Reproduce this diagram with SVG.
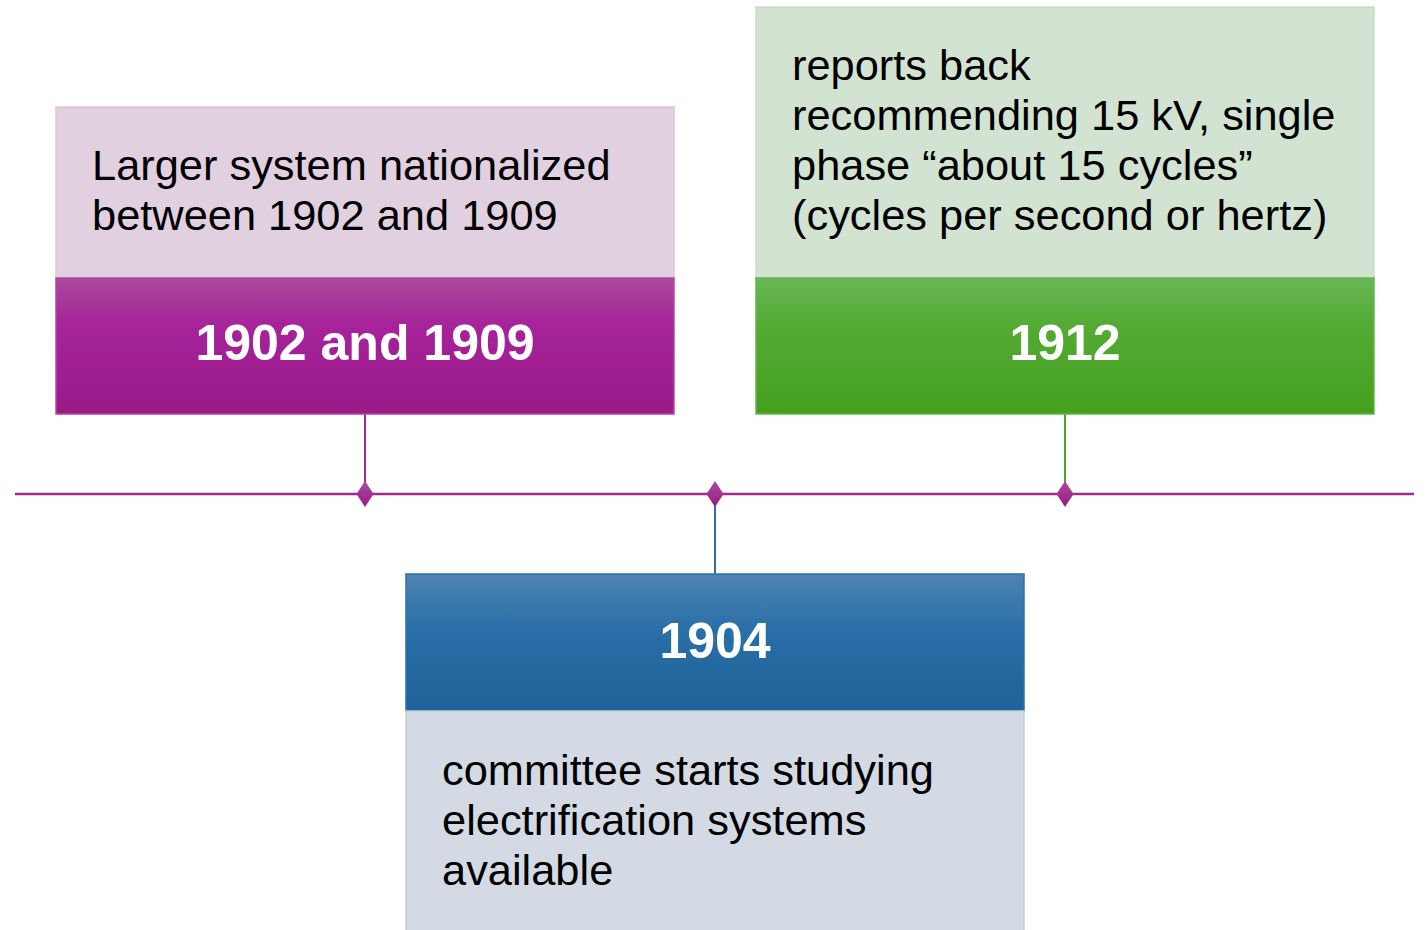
<svg xmlns="http://www.w3.org/2000/svg" width="1427" height="930" viewBox="0 0 1427 930">
<defs>
<linearGradient id="gP" x1="0" y1="0" x2="0" y2="1"><stop offset="0" stop-color="#ab4a9c"/><stop offset="0.35" stop-color="#a6239a"/><stop offset="1" stop-color="#9a1a89"/></linearGradient>
<linearGradient id="gG" x1="0" y1="0" x2="0" y2="1"><stop offset="0" stop-color="#68b656"/><stop offset="0.35" stop-color="#53ab33"/><stop offset="1" stop-color="#45a01e"/></linearGradient>
<linearGradient id="gB" x1="0" y1="0" x2="0" y2="1"><stop offset="0" stop-color="#4d84b1"/><stop offset="0.4" stop-color="#2a6fa8"/><stop offset="1" stop-color="#1f6199"/></linearGradient>
<linearGradient id="gD" x1="0" y1="0" x2="0" y2="1"><stop offset="0" stop-color="#b04aa0"/><stop offset="1" stop-color="#961a86"/></linearGradient>
</defs>
<style>
.body{font-family:"Liberation Sans",Arial,sans-serif;font-size:43.4px;fill:#000}
.title{font-family:"Liberation Sans",Arial,sans-serif;font-size:50px;font-weight:bold;fill:#fff;text-anchor:middle}
.dia{fill:url(#gD)}
</style>
<g id="connectors">
<line x1="15" y1="494" x2="1414" y2="494" stroke="#a0288f" stroke-width="2.5"/>
<line x1="365" y1="414" x2="365" y2="494" stroke="#a0288f" stroke-width="2"/>
<line x1="1065" y1="414" x2="1065" y2="494" stroke="#4ea52e" stroke-width="2"/>
<line x1="715" y1="494" x2="715" y2="574" stroke="#2a6fa8" stroke-width="2"/>
<path class="dia" d="M365 481 L373.5 494 L365 507 L356.5 494 Z"/>
<path class="dia" d="M715 481 L723.5 494 L715 507 L706.5 494 Z"/>
<path class="dia" d="M1065 481 L1073.5 494 L1065 507 L1056.5 494 Z"/>
</g>
<g id="node-1902">
<rect x="56" y="107" width="618" height="171" fill="#e1d0df" stroke="#dcc4d9" stroke-width="1.5"/>
<rect x="56" y="278" width="618" height="136" fill="url(#gP)" stroke="#b04aa0" stroke-width="1.5"/>
<text class="body" x="92" y="180">Larger system nationalized</text>
<text class="body" x="92" y="230">between 1902 and 1909</text>
<text class="title" x="365" y="360">1902 and 1909</text>
</g>
<g id="node-1912">
<rect x="756" y="7" width="618" height="271" fill="#d3e3d2" stroke="#c8dcc6" stroke-width="1.5"/>
<rect x="756" y="278" width="618" height="136" fill="url(#gG)" stroke="#66b450" stroke-width="1.5"/>
<text class="body" x="792" y="80">reports back</text>
<text class="body" x="792" y="130">recommending 15 kV, single</text>
<text class="body" x="792" y="180">phase “about 15 cycles”</text>
<text class="body" x="792" y="230">(cycles per second or hertz)</text>
<text class="title" x="1065" y="360">1912</text>
</g>
<g id="node-1904">
<rect x="406" y="574" width="618" height="137" fill="url(#gB)" stroke="#2e6fa6" stroke-width="1.5"/>
<rect x="406" y="711" width="618" height="222" fill="#d3dae3" stroke="#c3cedb" stroke-width="1.5"/>
<text class="title" x="715" y="658">1904</text>
<text class="body" x="442" y="785">committee starts studying</text>
<text class="body" x="442" y="835">electrification systems</text>
<text class="body" x="442" y="885">available</text>
</g>
</svg>
